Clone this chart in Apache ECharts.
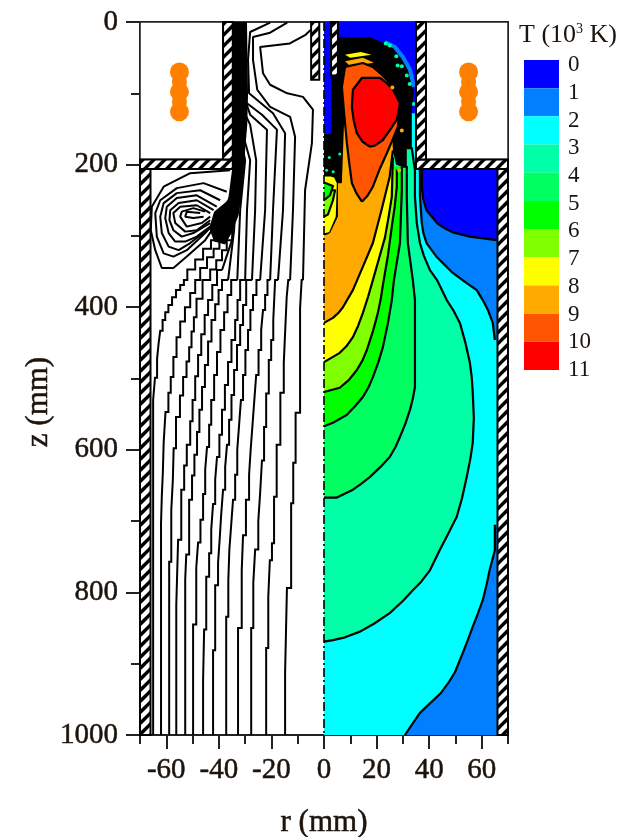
<!DOCTYPE html>
<html>
<head>
<meta charset="utf-8">
<style>html,body{margin:0;padding:0;background:#fff}#c{width:628px;height:837px}</style>
<script src="https://cdn.jsdelivr.net/npm/echarts@6/dist/echarts.min.js"></script>
</head>
<body>
<div id="c"></div>
<script>
// legend
const levelLabels = [0,1,2,3,4,5,6,7,8,9,10,11];
const levelColors = ['#0000ff','#0080ff','#00ffff','#00ffa6','#00ff60','#00ff00','#80ff00','#ffff00','#ffaa00','#ff5500','#ff0000'];
const xMajor = [-60,-40,-20,0,20,40,60];
const xMinor = [-70,-50,-30,-10,10,30,50,70];

// left half: stream lines [r, z], stair-stepped lower part
const line1 = [[-65,1000],[-65,565],[-64.3,530],[-63.5,499],[-62.9,472],[-62.3,450],[-61.4,433],[-60.4,418],[-59.2,407],[-57.8,397],[-56.3,386],[-54.7,376],[-53.3,369],[-52,362],[-49,347],[-46,333],[-43,318],[-40.3,306]];
const line2 = [[-62,1000],[-61.7,703],[-61.3,665],[-61,631],[-60.3,590],[-59.2,547],[-58.3,520],[-57.3,498],[-56.1,470],[-54.7,442],[-52.9,420],[-50.9,400],[-49,380],[-47.1,362],[-44.5,345],[-42,330],[-39.8,318],[-37.6,306]];
const line3 = [[-58.9,1000],[-58.1,757],[-57.5,684],[-57.2,642],[-56.3,598],[-54.8,554],[-53.6,524],[-52.3,498],[-51.3,476],[-50.4,456],[-49.5,434],[-48.5,414],[-46.2,388],[-43.3,362],[-41,347],[-38.8,334],[-37,320],[-35,306]];
const line4 = [[-56.2,1000],[-55.5,818],[-54.3,726],[-53.2,656],[-52.2,622],[-50.9,593],[-50,560],[-49,530],[-47.9,497],[-46.7,467],[-45.4,438],[-44.1,411],[-42.5,390],[-40.7,369],[-38.8,348]];
const line5 = [[-52.8,1000],[-52.4,782],[-51.3,747],[-50.2,670],[-49.3,636],[-48.3,607],[-47.4,575],[-46.4,544],[-45.3,512],[-44.1,481],[-42.8,448],[-41.4,418],[-40.1,396],[-38.8,376],[-36.5,362]];
const line6 = [[-49.8,1000],[-48.6,845],[-47.9,766],[-47,730],[-46,698],[-45.2,662],[-44.5,628],[-43.7,596],[-42.9,565],[-41.8,530],[-40.7,495],[-39.4,463],[-38,432],[-36.7,407],[-35.3,383],[-33,362]];
const line7 = [[-46,1000],[-45.6,923],[-44.8,852],[-43.7,778],[-42.9,745],[-42.2,712],[-41.4,676],[-40.7,642],[-39.8,610],[-38.8,579],[-37.7,544],[-36.5,509],[-35.2,477],[-33.8,446],[-32.9,418],[-31.9,390],[-30,362]];
const line8 = [[-42.2,1000],[-41.4,881],[-40.3,790],[-39.7,758],[-39.1,726],[-38.4,690],[-37.6,656],[-36.9,624],[-36.1,593],[-35.2,558],[-34.2,523],[-33.1,488],[-31.9,453],[-30.8,425],[-29.6,397],[-27.4,362]];
const line9 = [[-37.2,1000],[-36.4,834],[-36,783],[-35.3,740],[-34.6,705],[-33.8,670],[-33,635],[-32.3,600],[-31.6,565],[-30.8,530],[-29.9,495],[-28.9,460],[-28,432],[-27,404],[-25.7,383],[-24.3,362]];
const line10 = [[-32.7,1000],[-31.3,850],[-30.8,769],[-29.7,720],[-28.5,670],[-27.9,635],[-27.2,600],[-26.5,565],[-25.8,530],[-24.9,495],[-23.9,460],[-23.2,432],[-22.4,404],[-21.5,383],[-20.5,362]];
const line11 = [[-27.7,1000],[-26.9,850],[-26.2,787],[-25,740],[-24.3,700],[-23.6,661],[-22.8,615],[-22,568],[-21,521],[-20.1,474],[-19.3,446],[-18.6,418],[-17.5,362]];
const line12 = [[-22,1000],[-21.2,878],[-20.6,806],[-19.8,755],[-19,731],[-18,666],[-16.6,593],[-15.3,520],[-14.8,478],[-14.2,436],[-13.6,386],[-12.9,362]];
const line13 = [[-14.8,1000],[-14.1,913],[-12.5,794],[-11.7,675],[-10.8,618],[-9.1,548],[-8.5,401],[-8,362]];

// left half: stream lines, upper part
const top4 = [[-38.8,348],[-35,306],[-34.6,264],[-33,194]];
const top5 = [[-36.5,362],[-34.2,292],[-33.8,264],[-31.9,194]];
const top6 = [[-33,362],[-31.9,264],[-30,194],[-31.9,158]];
const top7 = [[-30,362],[-29.3,264],[-28.1,194],[-30.8,158]];
const top8 = [[-27.4,362],[-26.2,264],[-25.8,194],[-28.1,144],[-30.8,123]];
const top9 = [[-24.3,362],[-22.4,264],[-21.7,151],[-28.1,130],[-30,109]];
const top10 = [[-20.5,362],[-19.4,264],[-17.9,151],[-23.6,130],[-29.3,114]];
const top11 = [[-17.5,362],[-15.6,264],[-14.8,156],[-19.4,128],[-28.5,100],[-28.9,53],[-28.1,14],[-20.5,1]];
const top12 = [[-12.9,362],[-11.8,264],[-11,161],[-12.9,133],[-20.5,119],[-25.4,95],[-27,53],[-27,21],[-20.5,15],[-14,1]];
const top13 = [[-8,362],[-7.2,236],[-4.6,170],[-4.2,123],[-8,105],[-14,100],[-20.5,88],[-23.2,72],[-24.3,35],[-13,30],[-7,18],[-5,11]];

// left half: closed cells beside the torch wall
const loop1 = [[-35.7,208],[-50.9,212],[-61,231],[-65.5,259],[-65.9,292],[-64.2,320],[-61.7,345],[-57.3,345],[-52.2,329],[-45.2,306],[-40.8,282],[-35.7,245]];
const loop2 = [[-37,238],[-45.8,226],[-56,233],[-62.3,250],[-64.2,268],[-63.6,301],[-61,324.5],[-57.3,329],[-52.2,320],[-45.2,296],[-40.8,278]];
const loop3 = [[-39.5,250],[-47.1,236],[-56,240],[-61,254],[-62.3,273],[-61.7,296],[-59.1,315],[-55.3,320],[-50.9,310],[-44.6,292]];
const loop4 = [[-40.8,259],[-48.4,243],[-56,247],[-59.8,259],[-60.4,275],[-59.1,296],[-56.6,308],[-52.8,308],[-48.4,301],[-43.3,287]];
const loop5 = [[-42,264],[-48.4,250],[-55.3,254],[-58.5,264],[-58.8,278],[-57.3,292],[-54.1,301],[-49.7,296],[-43.3,282]];
const loop6 = [[-43.3,268],[-48.4,257],[-54.7,259],[-57.3,268],[-56.6,282],[-52.8,294],[-48.4,292],[-43.3,278]];
const loop7 = [[-45.2,266],[-49.7,261],[-54.1,266],[-54.7,273],[-52.2,287],[-46.5,282],[-43.3,273]];
const loop8 = [[-47.1,268],[-52.2,266],[-52.8,273],[-49.7,275],[-45.8,273]];
const blackBand = [[-34.6,0],[-29.3,0],[-28.9,102],[-29.2,144],[-30,180],[-31,236],[-32.5,271],[-35,295],[-37.6,312],[-41.8,308],[-43.7,289],[-41.8,266],[-36.5,250],[-35,208],[-34.7,194]];

// right half: temperature regions [r, z]
const fieldBase = [[0,0],[35,0],[35,206],[66,206],[66,1000],[0,1000]];
const fieldTop = [[0,0],[35,0],[35,128],[3,128],[3,156],[0,156]];
const c12Bottom = [[30.8,1000],[33.5,985],[36.5,969],[40.5,955],[44.5,941],[47.3,927],[49.8,912],[52.8,885],[54.7,867],[56.6,848],[58.5,830],[60.4,811],[61.8,790],[63,769],[64,755],[65,741],[65,705]];
const c12BottomEnd = [[66,705],[66,1000]];
const c12Top = [[65,446],[64.2,422],[62.5,405],[60.4,390],[58.1,376],[53.5,364],[49,352],[46,341],[43,330],[39,310],[37.8,296],[37.2,282],[36.5,245],[36.5,206]];
const c12TopEnd = [[66,206],[66,446]];
const c01Top = [[65.7,306],[55.5,301],[49,295],[45.7,289],[43,282],[39,264],[37.7,248],[37.2,231],[37.2,207]];
const c01TopEnd = [[66,207],[66,306]];
const c23 = [[0,869],[3.4,867],[8,863],[13.7,855],[19,844],[25,829],[30,812],[33.8,797],[37,785],[40.3,769],[44,741],[47.5,716],[50.5,694],[52.5,668],[54.3,638],[55.7,612],[56.6,590],[57,555],[56.6,520],[56.2,498],[55.5,478],[53.8,450],[51.7,422],[49.3,405],[46.7,390],[43,362],[40.3,348],[38,328],[36.5,310],[35.3,282],[34.6,245],[34.6,208],[33.4,177],[31.5,177]];
const c34 = [[0,667],[4.9,667],[11,656],[14,648],[17.5,638],[21.5,624],[25,610],[27.2,596],[28.9,582],[31,563],[32.7,544],[33.8,528],[34.6,512],[34.6,390],[33.8,362],[31.9,310],[31.5,245],[31.5,203],[29.6,203]];
const c45 = [[0,567],[3.4,562],[8.7,551],[11.8,539],[14.8,526],[17,512],[18.6,498],[20.7,477],[22.4,456],[24.3,423],[25.8,390],[26.2,376],[26.6,362],[28.9,310],[29.6,236],[29.6,203]];
const c56 = [[0,519],[6,513],[9.5,502],[12.5,488],[14.6,475],[16.3,460],[18.6,434],[20.5,408],[21.6,388],[22.4,369],[24.3,328],[25.8,287],[26.9,259],[27.7,231],[27.7,207]];
const c67 = [[0,477],[6,464],[8.7,454],[11,442],[13,426],[14.8,408],[16.8,385],[18.6,362],[20.9,332],[23.2,302],[24.6,273],[25.8,245],[26.2,190]];
const blackCore = [[5.3,21],[17.5,21],[25.8,35],[31.5,60],[34.2,95],[33.4,128],[33.4,177],[31.5,177],[31.5,203],[29.6,203],[27.4,200],[26.5,185],[25,160],[8,151],[7,226],[5.3,229],[0,222],[0,156],[2.7,156],[2.7,76],[5.3,76]];
const lobeYellow = [[0,298],[2.3,296],[4.9,273],[5.3,226],[4.2,217],[2.3,215],[0,215]];
const lobeLime = [[0,273],[1.5,270],[3.4,250],[4.2,236],[0,236]];
const lobeGreen = [[0,250],[2.3,243],[3.4,230],[0,225]];
const c78 = [[0,422],[3.4,415],[5.5,408],[7.2,400],[9.1,388],[11,376],[14.8,343],[18.6,310],[22,262],[25,217],[26.2,180]];
const c78Back = [[25.8,137],[25,109],[9.9,109],[7.6,144],[6.8,226],[5.3,226],[5.3,273],[2.3,296],[0,301]];
const arcOrange = [[8,55],[14.8,50],[19,57],[10,62]];
const arcYellow = [[8,46],[14,42],[18,46],[10,50]];
const c89 = [[14.4,252],[12.3,240],[10.6,226],[9.6,198],[8.7,170],[7.7,130],[6.8,91],[8,63],[14.8,57.5],[18.6,63],[22,74],[25,85.5],[27.3,102],[28.9,119],[28.1,147],[26,166],[23.9,184],[21,208],[18.6,231],[16.5,244],[14.4,252]];
const c910 = [[17.5,175],[14.7,168],[12.5,156],[11.3,138],[10.6,119],[11,95],[14.4,78.5],[21.3,78.5],[24,86],[26.2,95],[28.9,114],[27.7,137],[25,152],[22.4,165.5],[19.5,173],[17.5,175]];
const arcBlue = [[23.2,28],[27,35],[30,49],[32.7,67],[34.2,91]];
const dotsTeal = [[23.5,30],[25,33],[27.5,48],[28,61],[29.6,62],[31.5,75],[32.6,87],[34.2,115]];
const dotsOrange = [[26,92],[29.6,152],[28.6,208]];
const dotsLow = [[2,190],[6,185],[3.5,210],[1,208]];

// walls: [r0, z0, r1, z1]
const wallLeftOuter = [-70,206,-66,1000];
const wallRightOuter = [66,206,70,1000];
const plateLeft = [-70,193,-34.7,206];
const plateRight = [35,193,70,206];
const torchLeft = [-38.4,0,-34.7,193];
const torchRight = [35,0,38.8,193];
const tubeLeft = [-4.9,0,-1.8,81];
const tubeRight = [2.7,0,5.3,75];
const boxLeft = [-70,0,-38.4,193];
const boxRight = [38.8,0,70,193];

// induction coil
const coilZ = [70,98,126];
const coilNeckZ = [84,112];
const coilR = [-55,55];

const hatch = document.createElement('canvas');
hatch.width = 11; hatch.height = 11;
(function(){
  const g = hatch.getContext('2d');
  g.fillStyle = '#000'; g.fillRect(0,0,11,11);
  g.strokeStyle = '#fff'; g.lineWidth = 4.4;
  [[-5.5,5.5,5.5,-5.5],[0,11,11,0],[5.5,16.5,16.5,5.5]].forEach(function(s){
    g.beginPath(); g.moveTo(s[0],s[1]); g.lineTo(s[2],s[3]); g.stroke();
  });
})();

const regions = [
  {c:fieldBase, e:[], fill:levelColors[2], s:false},
  {c:fieldTop, e:[], fill:levelColors[0], s:false},
  {c:c12Bottom, e:c12BottomEnd, fill:levelColors[1], s:true},
  {c:c12Top, e:c12TopEnd, fill:levelColors[1], s:true},
  {c:c01Top, e:c01TopEnd, fill:levelColors[0], s:true},
  {c:c23, e:[[0,177]], fill:levelColors[3], s:true},
  {c:c34, e:[[0,203]], fill:levelColors[4], s:true},
  {c:c45, e:[[0,203]], fill:levelColors[5], s:true},
  {c:c56, e:[[0,207]], fill:levelColors[6], s:true},
  {c:c67, e:[[0,190]], fill:levelColors[7], s:true},
  {c:blackCore, e:[], fill:'#000', s:false},
  {c:lobeYellow, e:[], fill:levelColors[7], s:true},
  {c:lobeLime, e:[], fill:levelColors[6], s:true},
  {c:lobeGreen, e:[], fill:levelColors[5], s:true},
  {c:arcYellow, e:[], fill:levelColors[7], s:false},
  {c:arcOrange, e:[], fill:levelColors[8], s:false},
  {c:c78, e:c78Back, fill:levelColors[8], s:true},
  {c:c89, e:[], fill:levelColors[9], s:true},
  {c:c910, e:[], fill:levelColors[10], s:true}
];
const walls = [boxLeft, boxRight, wallLeftOuter, wallRightOuter, plateLeft, plateRight, torchLeft, torchRight, tubeLeft, tubeRight];
const hatched = [false,false,true,true,true,true,true,true,true,true];

function renderRegion(params, api){
  const reg = regions[params.dataIndex];
  const fillPts = reg.c.concat(reg.e).map(function(p){return api.coord(p);});
  const kids = [{type:'polygon', shape:{points:fillPts}, style:{fill:reg.fill}, silent:true}];
  if (reg.s) kids.push({type:'polyline', shape:{points:reg.c.map(function(p){return api.coord(p);})},
    style:{fill:null, stroke:'#000', lineWidth:2.2, lineJoin:'round'}, silent:true});
  return {type:'group', children:kids};
}
function renderWall(params, api){
  const w = walls[params.dataIndex];
  const a = api.coord([w[0],w[1]]), b = api.coord([w[2],w[3]]);
  return {type:'rect', shape:{x:a[0],y:a[1],width:b[0]-a[0],height:b[1]-a[1]},
    style:{fill: hatched[params.dataIndex] ? {image:hatch, repeat:'repeat'} : '#fff',
           stroke: hatched[params.dataIndex] ? '#000' : '#222', lineWidth: hatched[params.dataIndex] ? 2 : 1.5}, silent:true};
}
function renderBlack(params, api){
  return {type:'polygon', shape:{points:blackBand.map(function(p){return api.coord(p);})}, style:{fill:'#000'}, silent:true};
}
function renderSwatch(params, api){
  const a = api.coord([0,params.dataIndex]), b = api.coord([1,params.dataIndex+1]);
  return {type:'rect', shape:{x:a[0],y:a[1],width:b[0]-a[0],height:b[1]-a[1]}, style:{fill:levelColors[params.dataIndex]}, silent:true};
}

const textColor = '#1c140c';
const font = '"Liberation Serif","Times New Roman",serif';
const streamLines = [line1,line2,line3,line4,line5,line6,line7,line8,line9,line10,line11,line12,line13];
const topLines = [top4,top5,top6,top7,top8,top9,top10,top11,top12,top13];
const loops = [loop1,loop2,loop3,loop4,loop5,loop6,loop7,loop8];

const series = [];
series.push({type:'custom', coordinateSystem:'cartesian2d', xAxisIndex:0, yAxisIndex:0, renderItem:renderRegion,
  data:regions.map(function(r){return r.c[0];}), z:2, silent:true, animation:false});
series.push({type:'line', xAxisIndex:0, yAxisIndex:0, data:arcBlue, showSymbol:false, z:3, silent:true, animation:false,
  lineStyle:{color:levelColors[1], width:4}});
series.push({type:'scatter', xAxisIndex:0, yAxisIndex:0, data:dotsTeal, symbolSize:4, z:3, silent:true, itemStyle:{color:levelColors[3], opacity:1}});
series.push({type:'scatter', xAxisIndex:0, yAxisIndex:0, data:dotsOrange, symbolSize:4, z:3, silent:true, itemStyle:{color:levelColors[8], opacity:1}});
series.push({type:'scatter', xAxisIndex:0, yAxisIndex:0, data:dotsLow, symbolSize:3, z:3, silent:true, itemStyle:{color:levelColors[3], opacity:1}});
series.push({type:'custom', coordinateSystem:'cartesian2d', xAxisIndex:0, yAxisIndex:0, renderItem:renderBlack,
  data:[blackBand[0]], z:3, silent:true, animation:false});
streamLines.forEach(function(l){
  series.push({type:'line', xAxisIndex:0, yAxisIndex:0, data:l, step:'start', showSymbol:false, z:3, silent:true, animation:false,
    lineStyle:{color:'#000', width:2, join:'miter'}});
});
topLines.concat(loops).forEach(function(l){
  series.push({type:'line', xAxisIndex:0, yAxisIndex:0, data:l, showSymbol:false, z:3, silent:true, animation:false,
    lineStyle:{color:'#000', width:2}});
});
series.push({type:'line', xAxisIndex:0, yAxisIndex:0, data:[[0,0],[0,1000]], showSymbol:false, z:4, silent:true, animation:false,
  lineStyle:{color:'#000', width:1.6, type:[9,3,2,3]}});
series.push({type:'custom', coordinateSystem:'cartesian2d', xAxisIndex:0, yAxisIndex:0, renderItem:renderWall,
  data:walls.map(function(w){return [w[0],w[1]];}), z:5, silent:true, animation:false});
coilR.forEach(function(r){
  series.push({type:'scatter', xAxisIndex:0, yAxisIndex:0, data:coilZ.map(function(z){return [r,z];}), symbolSize:19, z:6, silent:true,
    itemStyle:{color:'#ff8000', opacity:1}});
  series.push({type:'scatter', xAxisIndex:0, yAxisIndex:0, data:coilNeckZ.map(function(z){return [r,z];}), symbolSize:15, z:6, silent:true,
    itemStyle:{color:'#ff8000', opacity:1}});
});
series.push({type:'custom', coordinateSystem:'cartesian2d', xAxisIndex:2, yAxisIndex:2, renderItem:renderSwatch,
  data:levelColors.map(function(c,i){return [0,i];}), silent:true, animation:false});
series.push({type:'line', xAxisIndex:3, yAxisIndex:1, data:[], silent:true});

const heavy = {textBorderColor:textColor, textBorderWidth:0.5};
const option = {
  backgroundColor:'#fff',
  animation:false,
  title:{text:'{a|T (10}{s|3}{a| K)}', left:514, top:17, textStyle:{fontWeight:'normal', rich:{
    a:{fontFamily:font, fontSize:26, fontWeight:'normal', color:textColor},
    s:{fontFamily:font, fontSize:14, fontWeight:'normal', color:textColor, verticalAlign:'top', lineHeight:20}}}},
  graphic:[{type:'text', x:39, y:402, rotation:Math.PI/2, silent:true,
    style:{text:'z (mm)', align:'center', verticalAlign:'middle', fontFamily:font, fontSize:31, fill:textColor, stroke:textColor, lineWidth:0.5}}],
  grid:[
    {left:140, top:22, width:368, height:713, outerBoundsMode:'none', show:true, borderColor:'#333', borderWidth:2, backgroundColor:'transparent'},
    {left:524, top:65, width:35, height:305, outerBoundsMode:'none'},
    {left:524, top:60, width:35, height:310, outerBoundsMode:'none'}
  ],
  xAxis:[
    {type:'value', gridIndex:0, min:-70, max:70, position:'bottom', splitLine:{show:false},
     axisLine:{onZero:false, lineStyle:{color:'#222', width:2}}, 
     axisTick:{length:14, customValues:xMajor, lineStyle:{color:'#222', width:2}},
     axisLabel:Object.assign({customValues:xMajor, margin:21, fontFamily:font, fontSize:29, color:textColor}, heavy),
     name:'r (mm)', nameLocation:'middle', nameGap:72, nameTextStyle:Object.assign({fontFamily:font, fontSize:31, color:textColor}, heavy)},
    {type:'value', gridIndex:0, min:-70, max:70, position:'bottom', splitLine:{show:false},
     axisLine:{show:false, onZero:false}, axisLabel:{show:false},
     axisTick:{length:9, customValues:xMinor, lineStyle:{color:'#222', width:2}}},
    {type:'value', gridIndex:2, min:0, max:1, show:false},
    {type:'value', gridIndex:1, min:0, max:1, show:false}
  ],
  yAxis:[
    {type:'value', gridIndex:0, min:0, max:1000, interval:200, inverse:true, position:'left', splitLine:{show:false},
     axisLine:{onZero:false, lineStyle:{color:'#222', width:2}},
     axisTick:{length:14, lineStyle:{color:'#222', width:2}},
     minorTick:{show:true, splitNumber:2, length:9, lineStyle:{color:'#222', width:2}},
     axisLabel:Object.assign({margin:22, fontFamily:font, fontSize:29, color:textColor, formatter:function(v){return String(v);}}, heavy)},
    {type:'value', gridIndex:1, min:0, max:11, interval:1, inverse:true, position:'right',
     axisLine:{show:false, onZero:false}, axisTick:{show:false}, splitLine:{show:false},
     axisLabel:{margin:9, fontFamily:font, fontSize:23, color:textColor}},
    {type:'value', gridIndex:2, min:0, max:11, inverse:true, show:false}
  ],
  series:series
};
echarts.init(document.getElementById('c'), null, {renderer:'canvas'}).setOption(option);
</script>
</body>
</html>
